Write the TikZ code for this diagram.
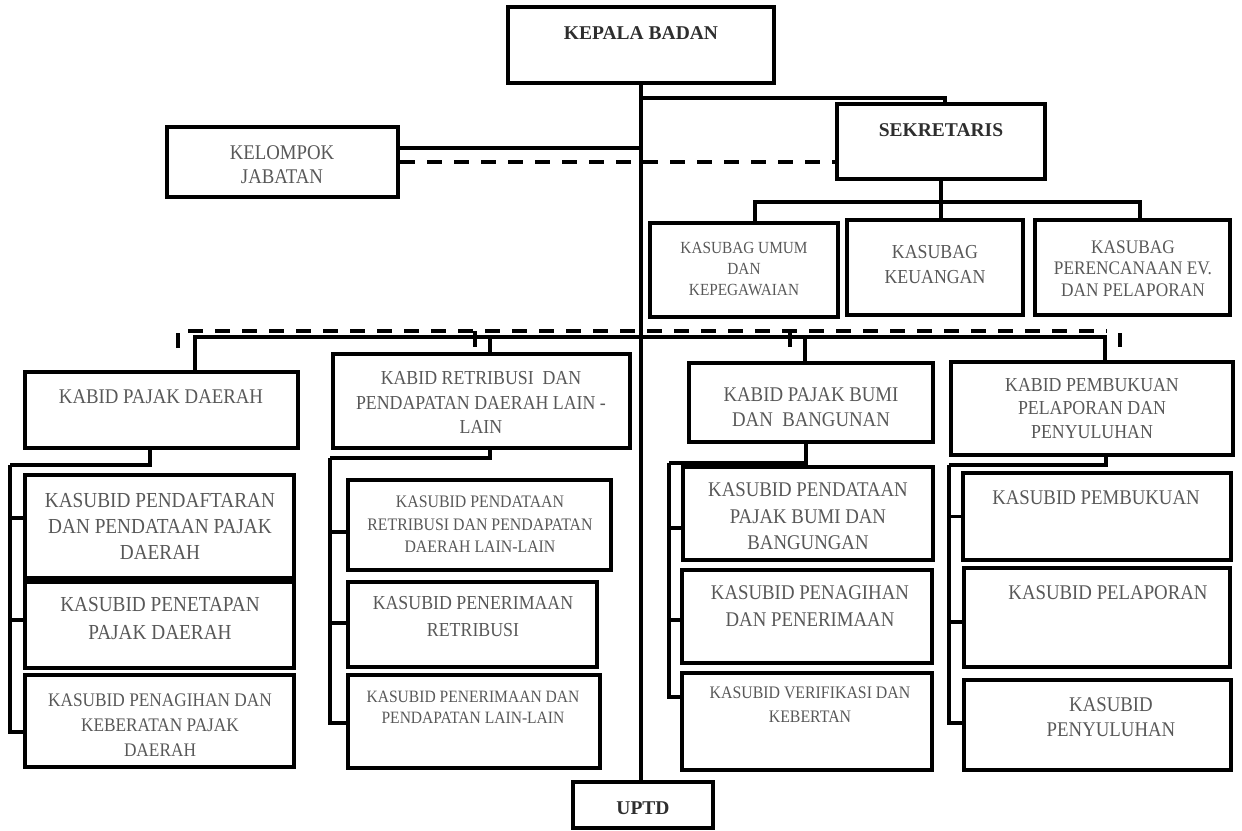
\documentclass[tikz,border=0pt]{standalone}
\usepackage{fontspec}
\setmainfont{Liberation Serif}
\newfontfamily\condfont[FakeStretch=0.9]{Liberation Serif}
\usetikzlibrary{fit,calc}
\definecolor{txtgray}{HTML}{585858}
\definecolor{txtdark}{HTML}{2E2E2E}
\newcommand{\fsz}[2]{\condfont\fontsize{#1}{#2}\selectfont}
\tikzset{
  box/.style={draw=black, line width=4pt, inner sep=0pt, rectangle},
  lbl/.style={text=txtgray, align=center, inner sep=0pt},
  blbl/.style={text=txtdark, align=center, inner sep=0pt, font=\bfseries\fontsize{19.5}{24}\selectfont},
  conn/.style={line width=3.4pt},
  bus/.style={line width=4pt, dash pattern=on 15pt off 12pt},
}
\begin{document}
\begin{tikzpicture}[x=1pt,y=-1pt]
\useasboundingbox (0,0) rectangle (1242,830);
% ---------- boxes ----------
\node[box, fit={(508,7)(774,83)}] (kepala) {};
\node[box, fit={(837,104)(1045,179)}] (sek) {};
\node[box, fit={(167,127)(398,197)}] (kel) {};
\node[box, fit={(650,223)(838,317)}] (ks1) {};
\node[box, fit={(847,220)(1023,315)}] (ks2) {};
\node[box, fit={(1035,220)(1230,315)}] (ks3) {};
\node[box, fit={(25,372)(298,448)}] (k1) {};
\node[box, fit={(333,354)(630,448)}] (k2) {};
\node[box, fit={(689,363)(933,442)}] (k3) {};
\node[box, fit={(951,362)(1233,455)}] (k4) {};
\node[box, fit={(25,475)(294,578)}] (s11) {};
\node[box, fit={(25,582)(294,668)}] (s12) {};
\node[box, fit={(25,675)(294,767)}] (s13) {};
\node[box, fit={(348,480)(611,570)}] (s21) {};
\node[box, fit={(348,582)(597,667)}] (s22) {};
\node[box, fit={(348,675)(600,768)}] (s23) {};
\node[box, fit={(683,467)(933,560)}] (s31) {};
\node[box, fit={(682,570)(932,663)}] (s32) {};
\node[box, fit={(682,673)(932,770)}] (s33) {};
\node[box, fit={(963,473)(1231,560)}] (s41) {};
\node[box, fit={(964,568)(1230,667)}] (s42) {};
\node[box, fit={(964,680)(1231,770)}] (s43) {};
\node[box, fit={(573,782)(713,828)}] (uptd) {};
% ---------- texts ----------
\node[blbl] (tkepala) at (641,33) {KEPALA BADAN};
\node[blbl] (tsek) at (941,130) {SEKRETARIS};
\node[lbl, font=\fsz{20.9}{24}] (tkel) at (282,165) {KELOMPOK\\JABATAN};
\node[lbl, font=\fsz{17}{21}] (tks1) at (744,269) {KASUBAG UMUM\\DAN\\KEPEGAWAIAN};
\node[lbl, font=\fsz{19.8}{25}] (tks2) at (935,264.5) {KASUBAG\\KEUANGAN};
\node[lbl, font=\fsz{19.2}{21.5}] (tks3) at (1133,268.5) {KASUBAG\\PERENCANAAN EV.\\DAN PELAPORAN};
\node[lbl, font=\fsz{20.9}{25}] (tk1) at (161,397) {KABID PAJAK DAERAH};
\node[lbl, font=\fsz{19.8}{24.5}] (tk2) at (481,402.5) {KABID RETRIBUSI\ \ DAN\\PENDAPATAN DAERAH LAIN -\\LAIN};
\node[lbl, font=\fsz{20.9}{25}] (tk3) at (811,407.5) {KABID PAJAK BUMI\\DAN\ \ BANGUNAN};
\node[lbl, font=\fsz{19.8}{23.5}] (tk4) at (1092,408.5) {KABID PEMBUKUAN\\PELAPORAN DAN\\PENYULUHAN};
\node[lbl, font=\fsz{21.4}{26}] (ts11) at (160,526) {KASUBID PENDAFTARAN\\DAN PENDATAAN PAJAK\\DAERAH};
\node[lbl, font=\fsz{21.4}{28}] (ts12) at (160,619) {KASUBID PENETAPAN\\PAJAK DAERAH};
\node[lbl, font=\fsz{19.2}{25}] (ts13) at (160,725) {KASUBID PENAGIHAN DAN\\KEBERATAN PAJAK\\DAERAH};
\node[lbl, font=\fsz{17.6}{22.5}] (ts21) at (480,524.5) {KASUBID PENDATAAN\\RETRIBUSI DAN PENDAPATAN\\DAERAH LAIN-LAIN};
\node[lbl, font=\fsz{19.8}{27}] (ts22) at (473,616.5) {KASUBID PENERIMAAN\\RETRIBUSI};
\node[lbl, font=\fsz{17.3}{21}] (ts23) at (473,707.5) {KASUBID PENERIMAAN DAN\\PENDAPATAN LAIN-LAIN};
\node[lbl, font=\fsz{20.9}{26.5}] (ts31) at (808,516.5) {KASUBID PENDATAAN\\PAJAK BUMI DAN\\BANGUNGAN};
\node[lbl, font=\fsz{20.9}{27}] (ts32) at (810,606.5) {KASUBID PENAGIHAN\\DAN PENERIMAAN};
\node[lbl, font=\fsz{17.6}{24}] (ts33) at (810,705) {KASUBID VERIFIKASI DAN\\KEBERTAN};
\node[lbl, font=\fsz{20.9}{25}] (ts41) at (1096,498) {KASUBID PEMBUKUAN};
\node[lbl, font=\fsz{20.9}{25}] (ts42) at (1108,593) {KASUBID PELAPORAN};
\node[lbl, font=\fsz{20.9}{25}] (ts43) at (1111,717.5) {KASUBID\\PENYULUHAN};
\node[blbl] (tuptd) at (643,808) {UPTD};
% ---------- top connectors ----------
\draw[conn] (kepala.south) -- (kepala.south |- uptd.north);
\draw[conn] ($(kepala.south)+(0,13)$) -| ($(sek.north)+(4,0)$);
\draw[conn] ($(kel.east)+(0,-14)$) -| (kepala.south);
\draw[bus] (kel.east) -- (kel.east -| sek.west);
\coordinate (sb) at ($(sek.south)+(0,21)$);
\draw[conn] (sek.south) -- (sek.south |- ks2.north);
\draw[conn] ($(ks1.north)+(11,0)$) |- (sb);
\draw[conn] ($(ks3.north)+(7.5,0)$) |- (sb);
% ---------- buses ----------
\coordinate (dL) at (178,348);
\coordinate (dLc) at (178,331);
\coordinate (dR) at (1107,331);
\draw[bus] (dL) -- (dLc) -- (dR);
\coordinate (ta1) at (475,331); \coordinate (tb1) at (475,347);
\coordinate (ta2) at (790,331); \coordinate (tb2) at (790,347);
\coordinate (ta3) at (1120,333); \coordinate (tb3) at (1120,347);
\draw[conn] (ta1) -- (tb1);
\draw[conn] (ta2) -- (tb2);
\draw[conn] (ta3) -- (tb3);
\coordinate (sbus) at (641,337);
\draw[conn] ($(k1.north)+(33.5,0)$) |- (sbus) -| ($(k4.north)+(13,0)$);
\draw[conn] ($(k2.north)+(8.5,0)$) |- (sbus);
\draw[conn] ($(k3.north)+(-6,0)$) |- (sbus);
% ---------- column connectors ----------
\coordinate (c1) at (10,465);
\coordinate (c2) at (330,458);
\coordinate (c3) at (669,463);
\coordinate (c4) at (949,465);
\draw[conn] ($(k1.south)+(-11.5,0)$) |- (c1);
\draw[conn] ($(s11.west)+(0,-8.5)$) -| (c1);
\draw[conn] ($(s12.west)+(0,-5)$) -| (c1);
\draw[conn] ($(s13.west)+(0,11)$) -| (c1);
\draw[conn] ($(k2.south)+(8.5,0)$) |- (c2);
\draw[conn] ($(s21.west)+(0,7)$) -| (c2);
\draw[conn] ($(s22.west)+(0,-1.5)$) -| (c2);
\draw[conn] ($(s23.west)+(0,1.5)$) -| (c2);
\draw[conn] ($(k3.south)+(-5,0)$) |- (c3);
\draw[conn] ($(s31.west)+(0,14.5)$) -| (c3);
\draw[conn] ($(s32.west)+(0,3.5)$) -| (c3);
\draw[conn] ($(s33.west)+(0,-24.5)$) -| (c3);
\draw[conn] ($(k4.south)+(14,0)$) |- (c4);
\draw[conn] (s41.west) -| (c4);
\draw[conn] ($(s42.west)+(0,4.5)$) -| (c4);
\draw[conn] ($(s43.west)+(0,-2)$) -| (c4);
\end{tikzpicture}
\end{document}
